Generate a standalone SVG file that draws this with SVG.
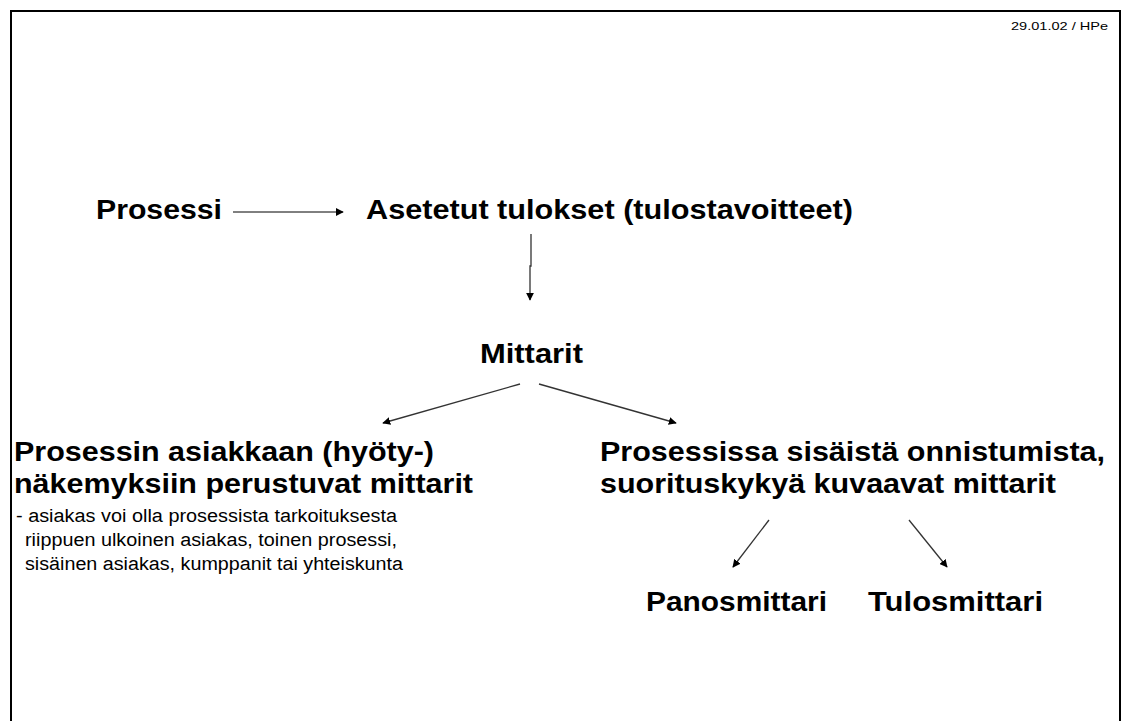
<svg xmlns="http://www.w3.org/2000/svg" width="1122" height="721" viewBox="0 0 1122 721">
  <style>
    .b { font-family: "Liberation Sans", Arial, sans-serif; font-weight: bold; font-size: 27px; fill: #000; }
    .s { font-family: "Liberation Sans", Arial, sans-serif; font-size: 18px; fill: #000; }
    .d { font-family: "Liberation Sans", Arial, sans-serif; font-size: 11px; fill: #000; }
    .ln { stroke: #333; stroke-width: 1.3; fill: none; }
  </style>
  <defs>
    <marker id="ah" viewBox="0 0 10 10" refX="9" refY="5" markerWidth="8" markerHeight="8" markerUnits="userSpaceOnUse" orient="auto">
      <path d="M0,0 L10,5 L0,10 z" fill="#000"/>
    </marker>
  </defs>

  <rect x="0" y="0" width="1122" height="721" fill="#fff"/>
  <!-- page frame, open at the bottom edge -->
  <path d="M11,730 L11,11 L1120,11 L1120,730" fill="none" stroke="#000" stroke-width="2"/>

  <text class="d" x="1011" y="30" textLength="97" lengthAdjust="spacingAndGlyphs">29.01.02 / HPe</text>

  <g id="prosessi">
    <text class="b" x="96" y="219" textLength="126" lengthAdjust="spacingAndGlyphs">Prosessi</text>
  </g>
  <g id="tulokset">
    <text class="b" x="366" y="219" textLength="487" lengthAdjust="spacingAndGlyphs">Asetetut tulokset (tulostavoitteet)</text>
  </g>
  <g id="mittarit">
    <text class="b" x="480" y="363" textLength="103" lengthAdjust="spacingAndGlyphs">Mittarit</text>
  </g>
  <g id="asiakasmittarit">
    <text class="b" x="14" y="461" textLength="420" lengthAdjust="spacingAndGlyphs">Prosessin asiakkaan (hyöty-)</text>
    <text class="b" x="14" y="493" textLength="459" lengthAdjust="spacingAndGlyphs">näkemyksiin perustuvat mittarit</text>
    <text class="s" x="16" y="522" textLength="381" lengthAdjust="spacingAndGlyphs">- asiakas voi olla prosessista tarkoituksesta</text>
    <text class="s" x="25" y="546" textLength="372" lengthAdjust="spacingAndGlyphs">riippuen ulkoinen asiakas, toinen prosessi,</text>
    <text class="s" x="25" y="570" textLength="378" lengthAdjust="spacingAndGlyphs">sisäinen asiakas, kumppanit tai yhteiskunta</text>
  </g>
  <g id="sisaisetmittarit">
    <text class="b" x="600" y="461" textLength="505" lengthAdjust="spacingAndGlyphs">Prosessissa sisäistä onnistumista,</text>
    <text class="b" x="600" y="493" textLength="456" lengthAdjust="spacingAndGlyphs">suorituskykyä kuvaavat mittarit</text>
  </g>
  <g id="panosmittari">
    <text class="b" x="646" y="611" textLength="181" lengthAdjust="spacingAndGlyphs">Panosmittari</text>
  </g>
  <g id="tulosmittari">
    <text class="b" x="868" y="611" textLength="175" lengthAdjust="spacingAndGlyphs">Tulosmittari</text>
  </g>

  <g id="connectors">
    <line x1="233" y1="212" x2="343" y2="212" stroke="#000" stroke-width="1" marker-end="url(#ah)"/>
    <polyline class="ln" points="531,234 531,266 530,266 530,300" marker-end="url(#ah)"/>
    <line class="ln" x1="520" y1="384" x2="383" y2="423" marker-end="url(#ah)"/>
    <line class="ln" x1="539" y1="384" x2="676" y2="423" marker-end="url(#ah)"/>
    <line class="ln" x1="769" y1="520" x2="733" y2="567" marker-end="url(#ah)"/>
    <line class="ln" x1="909" y1="520" x2="947" y2="567" marker-end="url(#ah)"/>
  </g>
</svg>
